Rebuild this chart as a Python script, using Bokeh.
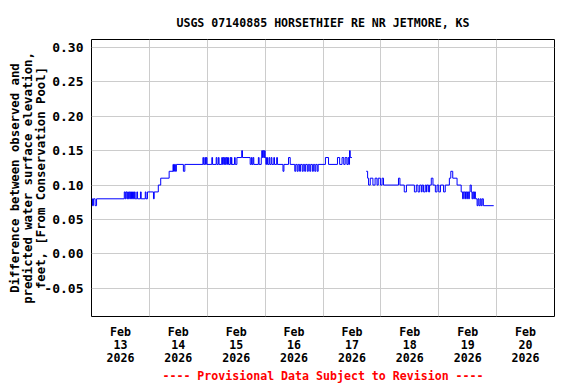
import math
from bokeh.plotting import figure
from bokeh.models import FixedTicker, Range1d, NumeralTickFormatter, Title
from bokeh.embed import file_html
from bokeh.resources import INLINE

title_text = "USGS 07140885 HORSETHIEF RE NR JETMORE, KS"
y_label_lines = ["Difference between observed and",
                 "predicted water surface elevation,",
                 "feet, [From Conservation Pool]"]
footer_text = "---- Provisional Data Subject to Revision ----"

# x axis: hours since Feb 13 2026 00:00
day_labels = ["Feb\n13\n2026", "Feb\n14\n2026", "Feb\n15\n2026", "Feb\n16\n2026",
              "Feb\n17\n2026", "Feb\n18\n2026", "Feb\n19\n2026", "Feb\n20\n2026"]
day_starts = [0, 24, 48, 72, 96, 120, 144, 168, 192]
y_ticks = [-0.05, 0.0, 0.05, 0.10, 0.15, 0.20, 0.25, 0.30]

NaN = float("nan")
# change points (hour, value) of the step series; NaN marks the data gap
hours = [0.0, 0.4, 0.8, 1.5, 2.1, 13.6, 14.0, 14.3, 14.7, 15.0, 15.3, 15.7, 16.1, 16.3, 16.6,
         17.0, 17.4, 17.8, 18.1, 18.8, 19.1, 20.3, 20.6, 22.3, 22.6, 23.2, 25.7, 26.0, 27.7,
         28.7, 32.2, 33.8, 34.0, 34.4, 34.8, 35.2, 38.1, 38.7, 46.2, 46.5, 47.0, 47.3, 47.6,
         47.9, 49.9, 50.2, 51.7, 52.0, 52.6, 52.9, 54.0, 54.3, 54.6, 54.9, 55.2, 55.5, 55.8,
         56.1, 56.4, 56.8, 57.5, 57.8, 58.0, 58.2, 59.3, 59.6, 60.3, 62.3, 62.6, 65.8, 66.3,
         66.6, 67.0, 67.3, 69.2, 69.5, 70.4, 70.6, 70.9, 71.2, 71.5, 71.8, 72.0, 72.3, 72.6,
         73.0, 73.6, 73.9, 74.5, 74.8, 75.6, 75.9, 76.8, 77.1, 79.4, 79.8, 81.7, 82.4, 84.3,
         84.7, 85.3, 85.7, 86.3, 86.7, 87.4, 87.8, 88.4, 88.8, 89.5, 89.9, 90.5, 90.9, 91.6,
         92.0, 92.6, 93.0, 93.6, 94.0, 97.0, 98.3, 102.0, 102.9, 103.9, 104.6, 105.2, 105.9,
         106.4, 106.7, 107.0, 107.3, 108.0,
         NaN,
         113.9, 114.5, 114.9, 115.6, 116.7, 117.6, 118.4, 118.9, 119.8, 120.5, 121.1, 127.3,
         127.9, 129.7, 130.6, 133.9, 134.7, 135.4, 136.1, 136.8, 137.1, 137.7, 138.4, 138.9,
         139.1, 139.8, 140.2, 140.9, 141.6, 142.6, 143.3, 144.0, 144.7, 146.0, 146.7, 148.4,
         149.0, 149.8, 151.6, 153.3, 153.9, 154.2, 154.8, 155.1, 155.6, 155.9, 156.4, 156.7,
         157.0, 157.5, 157.8, 158.1, 158.5, 158.8, 159.2, 159.9, 160.3, 160.7, 161.2, 161.6,
         162.0, 162.5, 166.8]
values = [0.08, 0.07, 0.08, 0.07, 0.08, 0.09, 0.08, 0.09, 0.08, 0.09, 0.08, 0.09, 0.08, 0.09, 0.08,
          0.09, 0.08, 0.09, 0.08, 0.09, 0.08, 0.09, 0.08, 0.09, 0.08, 0.09, 0.08, 0.09, 0.10,
          0.11, 0.12, 0.13, 0.12, 0.13, 0.12, 0.13, 0.12, 0.13, 0.14, 0.13, 0.14, 0.13, 0.14,
          0.13, 0.14, 0.13, 0.14, 0.13, 0.14, 0.13, 0.14, 0.13, 0.14, 0.13, 0.14, 0.13, 0.14,
          0.13, 0.14, 0.13, 0.14, 0.13, 0.14, 0.13, 0.14, 0.13, 0.14, 0.15, 0.14, 0.13, 0.14,
          0.13, 0.14, 0.13, 0.14, 0.13, 0.14, 0.15, 0.14, 0.15, 0.14, 0.15, 0.14, 0.13, 0.14,
          0.13, 0.14, 0.13, 0.14, 0.13, 0.14, 0.13, 0.14, 0.13, 0.12, 0.13, 0.14, 0.13, 0.12,
          0.13, 0.12, 0.13, 0.12, 0.13, 0.12, 0.13, 0.12, 0.13, 0.12, 0.13, 0.12, 0.13, 0.12,
          0.13, 0.12, 0.13, 0.12, 0.13, 0.14, 0.13, 0.14, 0.13, 0.14, 0.13, 0.14, 0.13,
          0.14, 0.13, 0.15, 0.14, 0.14,
          NaN,
          0.12, 0.11, 0.10, 0.11, 0.10, 0.11, 0.10, 0.11, 0.10, 0.11, 0.10, 0.11,
          0.10, 0.09, 0.10, 0.09, 0.10, 0.09, 0.10, 0.09, 0.10, 0.09, 0.10, 0.09,
          0.10, 0.09, 0.10, 0.11, 0.10, 0.09, 0.10, 0.09, 0.10, 0.09, 0.10, 0.11,
          0.12, 0.11, 0.10, 0.09, 0.08, 0.09, 0.08, 0.09, 0.08, 0.09, 0.08, 0.09,
          0.10, 0.09, 0.08, 0.09, 0.08, 0.09, 0.08, 0.07, 0.08, 0.07, 0.08, 0.07,
          0.08, 0.07, 0.07]

MONO = "DejaVu Sans Mono"

p = figure(width=576, height=384, output_backend="svg", toolbar_location=None,
           x_range=Range1d(0, 192), y_range=Range1d(-0.0911, 0.3116),
           min_border_left=91, min_border_right=22, min_border_top=39, min_border_bottom=68)
p.background_fill_color = "white"
p.border_fill_color = "white"
p.outline_line_color = "black"
p.outline_line_width = 1
p.outline_line_alpha = 1.0

# title above
p.title.text = title_text
p.title.align = "center"
p.title.text_font = MONO
p.title.text_font_style = "bold"
p.title.text_font_size = "11.6px"
p.title.text_color = "black"
p.title.standoff = 19

# footer below
p.add_layout(Title(text=footer_text, align="center", text_font=MONO,
                   text_font_style="bold", text_font_size="11.6px",
                   text_color="#FF0000", standoff=-3), "below")

# split series at NaN gap and draw as steps
segs = []
cur_x, cur_y = [], []
for h, v in zip(hours, values):
    if math.isnan(h):
        segs.append((cur_x, cur_y))
        cur_x, cur_y = [], []
    else:
        cur_x.append(h)
        cur_y.append(v)
segs.append((cur_x, cur_y))
for sx, sy in segs:
    p.step(sx, sy, mode="after", line_color="#0000FF", line_width=1)

# axes
noon_ticks = [d + 12 for d in day_starts[:-1]]
p.xaxis.ticker = FixedTicker(ticks=noon_ticks)
p.xaxis.major_label_overrides = {t: lab for t, lab in zip(noon_ticks, day_labels)}
p.xgrid.ticker = FixedTicker(ticks=day_starts[1:-1])
p.yaxis.ticker = FixedTicker(ticks=y_ticks)
p.yaxis.formatter = NumeralTickFormatter(format="0.00")
for ax in (p.xaxis[0], p.yaxis[0]):
    ax.axis_line_color = None
    ax.major_tick_line_color = None
    ax.minor_tick_line_color = None
    ax.major_tick_out = 0
    ax.major_tick_in = 0
    ax.major_label_text_font = MONO
    ax.major_label_text_font_style = "bold"
    ax.major_label_text_color = "black"
p.xaxis.major_label_text_font_size = "11.6px"
p.xaxis.major_label_text_line_height = 0.96
p.xaxis.major_label_standoff = 8
p.yaxis.major_label_text_font_size = "13px"
p.yaxis.major_label_standoff = 8

p.yaxis.axis_label = "\n".join(y_label_lines)
p.yaxis.axis_label_text_font = MONO
p.yaxis.axis_label_text_font_style = "bold"
p.yaxis.axis_label_text_font_size = "12.3px"
p.yaxis.axis_label_text_color = "black"
p.yaxis.axis_label_text_line_height = 0.94
p.yaxis.axis_label_standoff = -7

p.xgrid.grid_line_color = "#cccccc"
p.ygrid.grid_line_color = "#cccccc"
p.xgrid.grid_line_width = 1
p.ygrid.grid_line_width = 1

open("out.html", "w").write(file_html(p, INLINE))
